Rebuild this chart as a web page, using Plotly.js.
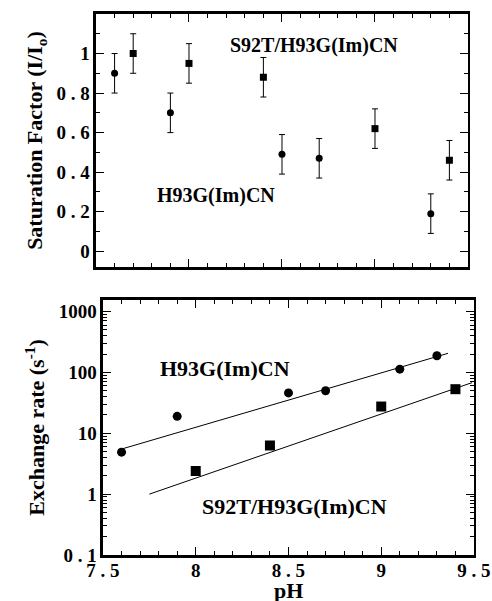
<!DOCTYPE html>
<html>
<head>
<meta charset="utf-8">
<script src="https://cdn.plot.ly/plotly-3.0.1.min.js"></script>
<style>html,body{margin:0;padding:0;background:#fff}#chart{width:492px;height:601px}</style>
</head>
<body>
<div id="chart"></div>
<script>
// Top panel: saturation factor
var satH93G_pH = [7.6, 7.9, 8.5, 8.7, 9.3];
var satH93G_val = [0.90, 0.70, 0.49, 0.47, 0.19];
var satH93G_err = [0.10, 0.10, 0.10, 0.10, 0.10];
var satS92T_pH = [7.7, 8.0, 8.4, 9.0, 9.4];
var satS92T_val = [1.00, 0.95, 0.88, 0.62, 0.46];
var satS92T_err = [0.10, 0.10, 0.10, 0.10, 0.10];

// Bottom panel: exchange rate
var exH93G_pH = [7.6, 7.9, 8.5, 8.7, 9.1, 9.3];
var exH93G_val = [4.9, 19, 46, 50, 113, 188];
var exS92T_pH = [8.0, 8.4, 9.0, 9.4];
var exS92T_val = [2.4, 6.3, 27.5, 53];
var fitH93G_pH = [7.6, 9.36];
var fitH93G_val = [5.5, 206];
var fitS92T_pH = [7.75, 9.49];
var fitS92T_val = [1.0, 68];

var topYTickVals = [0, 0.2, 0.4, 0.6, 0.8, 1];
var topYTickText = ['0', '0 . 2', '0 . 4', '0 . 6', '0 . 8', '1'];
var botYTickVals = [0.1, 1, 10, 100, 1000];
var botYTickText = ['0 . 1', '1', '10', '100', '1000'];
var xTickVals = [7.5, 8, 8.5, 9, 9.5];
var xTickText = ['7 . 5', '8', '8 . 5', '9', '9 . 5'];

var FONT = 'Liberation Serif, Times New Roman, serif';
var tickFont = {family: FONT, size: 19, color: '#000', weight: 'bold'};

var traces = [
  {x: satH93G_pH, y: satH93G_val, xaxis: 'x', yaxis: 'y', mode: 'markers', type: 'scatter',
   marker: {symbol: 'circle', size: 7, color: '#000'},
   error_y: {type: 'data', array: satH93G_err, visible: true, color: '#000', thickness: 1, width: 3}},
  {x: satS92T_pH, y: satS92T_val, xaxis: 'x', yaxis: 'y', mode: 'markers', type: 'scatter',
   marker: {symbol: 'square', size: 7, color: '#000'},
   error_y: {type: 'data', array: satS92T_err, visible: true, color: '#000', thickness: 1, width: 3}},
  {x: fitH93G_pH, y: fitH93G_val, xaxis: 'x2', yaxis: 'y2', mode: 'lines', type: 'scatter',
   line: {color: '#000', width: 1}},
  {x: fitS92T_pH, y: fitS92T_val, xaxis: 'x2', yaxis: 'y2', mode: 'lines', type: 'scatter',
   line: {color: '#000', width: 1}},
  {x: exH93G_pH, y: exH93G_val, xaxis: 'x2', yaxis: 'y2', mode: 'markers', type: 'scatter',
   marker: {symbol: 'circle', size: 9, color: '#000'}},
  {x: exS92T_pH, y: exS92T_val, xaxis: 'x2', yaxis: 'y2', mode: 'markers', type: 'scatter',
   marker: {symbol: 'square', size: 10, color: '#000'}}
];

var axBase = {
  showline: true, linewidth: 2.5, linecolor: '#000', mirror: 'ticks',
  ticks: 'inside', ticklen: 8, tickwidth: 1, tickcolor: '#000',
  showgrid: false, zeroline: false, tickfont: tickFont
};
function ax(extra) { return Object.assign({}, axBase, extra); }

var layout = {
  width: 492, height: 601,
  margin: {l: 0, r: 0, t: 0, b: 46},
  paper_bgcolor: '#fff', plot_bgcolor: '#fff',
  showlegend: false,
  xaxis: ax({domain: [0.1951, 0.9512], anchor: 'y', range: [7.5, 9.5], dtick: 0.5, tick0: 7.5,
    showticklabels: false,
    minor: {ticks: 'inside', dtick: 0.1, ticklen: 4, tickcolor: '#000', tickwidth: 1}}),
  yaxis: ax({domain: [0.5189, 0.9748], anchor: 'x', range: [-0.08, 1.2],
    tickmode: 'array', tickvals: topYTickVals, ticktext: topYTickText,
    minor: {ticks: 'inside', dtick: 0.1, ticklen: 4, tickcolor: '#000', tickwidth: 1},
    title: {text: 'Saturation Factor (I/I<sub>o</sub>)', font: {family: FONT, size: 22, color: '#000', weight: 'bold'}, standoff: 8}}),
  xaxis2: ax({domain: [0.2093, 0.9634], anchor: 'y2', range: [7.5, 9.5],
    tickmode: 'array', tickvals: xTickVals, ticktext: xTickText, ticklabelstandoff: -3,
    minor: {ticks: 'inside', dtick: 0.1, ticklen: 4, tickcolor: '#000', tickwidth: 1}}),
  yaxis2: ax({domain: [0, 0.4595], anchor: 'x2', type: 'log', range: [-1, 3.19],
    tickmode: 'array', tickvals: botYTickVals, ticktext: botYTickText,
    minor: {ticks: 'inside', dtick: 'D1', ticklen: 4, tickcolor: '#000', tickwidth: 1},
    title: {text: 'Exchange rate (s<sup>-1</sup>)', font: {family: FONT, size: 22, color: '#000', weight: 'bold'}, standoff: 8}}),
  annotations: [
    {xref: 'x', yref: 'y', x: 8.67, y: 1.04, text: 'S92T/H93G(Im)CN', showarrow: false,
     font: {family: FONT, size: 20, color: '#000', weight: 'bold'}},
    {xref: 'x', yref: 'y', x: 8.144, y: 0.282, text: 'H93G(Im)CN', showarrow: false,
     font: {family: FONT, size: 20, color: '#000', weight: 'bold'}},
    {xref: 'x2', yref: 'y2', x: 8.158, y: 2.07, text: 'H93G(Im)CN', showarrow: false,
     font: {family: FONT, size: 22, color: '#000', weight: 'bold'}},
    {xref: 'x2', yref: 'y2', x: 8.533, y: -0.203, text: 'S92T/H93G(Im)CN', showarrow: false,
     font: {family: FONT, size: 22, color: '#000', weight: 'bold'}},
    {xref: 'paper', yref: 'paper', x: 0.5864, y: -0.0405, xanchor: 'center', yanchor: 'top',
     text: 'pH', showarrow: false, borderpad: 0,
     font: {family: FONT, size: 22, color: '#000', weight: 'bold'}}
  ]
};

Plotly.newPlot('chart', traces, layout, {displayModeBar: false, staticPlot: true});
</script>
</body>
</html>
